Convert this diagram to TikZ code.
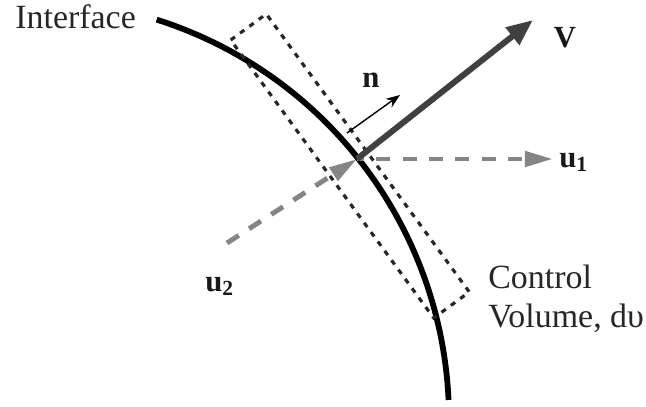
\documentclass[tikz,border=0pt]{standalone}
\usepackage{fontspec}
\setmainfont{Liberation Serif}
\usetikzlibrary{arrows.meta}
\begin{document}
\begin{tikzpicture}[x=0.02cm,y=-0.02cm,
  txt/.style={inner sep=0pt, text=black!85, font=\fontsize{19.3}{22}\selectfont},
  lbl/.style={inner sep=0pt, text=black!90, font=\fontsize{17.5}{20}\selectfont\bfseries},
  iface/.style={line width=3.3pt, black},
  cvbox/.style={line width=1.8pt, draw=black!85, dash pattern=on 3pt off 3.6pt},
  vel/.style={line width=3.4pt, draw=black!75, -{Triangle[length=15pt,width=12pt]}},
  uvec/.style={line width=2.8pt, draw=black!48, dash pattern=on 8pt off 7pt, -{Triangle[length=16pt,width=8.5pt]}},
  nvec/.style={line width=0.8pt, -{Stealth[length=8pt,width=6pt]}}
]
\useasboundingbox (0,0) rectangle (646,406);
% interface (circular arc)
\draw[iface] plot[domain=-72.4:-2.6, samples=90, smooth] ({30+419*cos(\x)},{419+419*sin(\x)});
% control volume
\coordinate (c1) at (230.7,40);
\coordinate (c2) at (266.3,14);
\coordinate (c3) at (469.3,292);
\coordinate (c4) at (433.7,318);
\draw[cvbox] (c1) -- (c2) -- (c3) -- (c4) -- cycle;
% vectors
\coordinate (O) at (357,159);
\coordinate (Vt) at (533,20);
\coordinate (u1t) at (553,159);
\coordinate (u2s) at (227,243);
\coordinate (ns) at (347,133);
\coordinate (nt) at (400,95);
\draw[uvec] (u2s) -- (O);
\draw[uvec, dash phase=4pt] (O) -- (u1t);
\draw[vel] (O) -- (Vt);
\draw[nvec] (ns) -- (nt);
% labels
\node[txt, anchor=base west] (iflab) at (15,28) {Interface};
\node[txt, anchor=base west] (ctrl) at (488,288) {Control};
\node[txt, anchor=base west] (vol) at (488,327) {Volume, dυ};
\node[lbl, anchor=base] (Vlab) at (565,47) {V};
\node[lbl, anchor=base] (nlab) at (371,87) {n};
\node[lbl, anchor=base west] (u1lab) at (559,167) {u\textsubscript{1}};
\node[lbl, anchor=base west] (u2lab) at (205,291) {u\textsubscript{2}};
\end{tikzpicture}
\end{document}
